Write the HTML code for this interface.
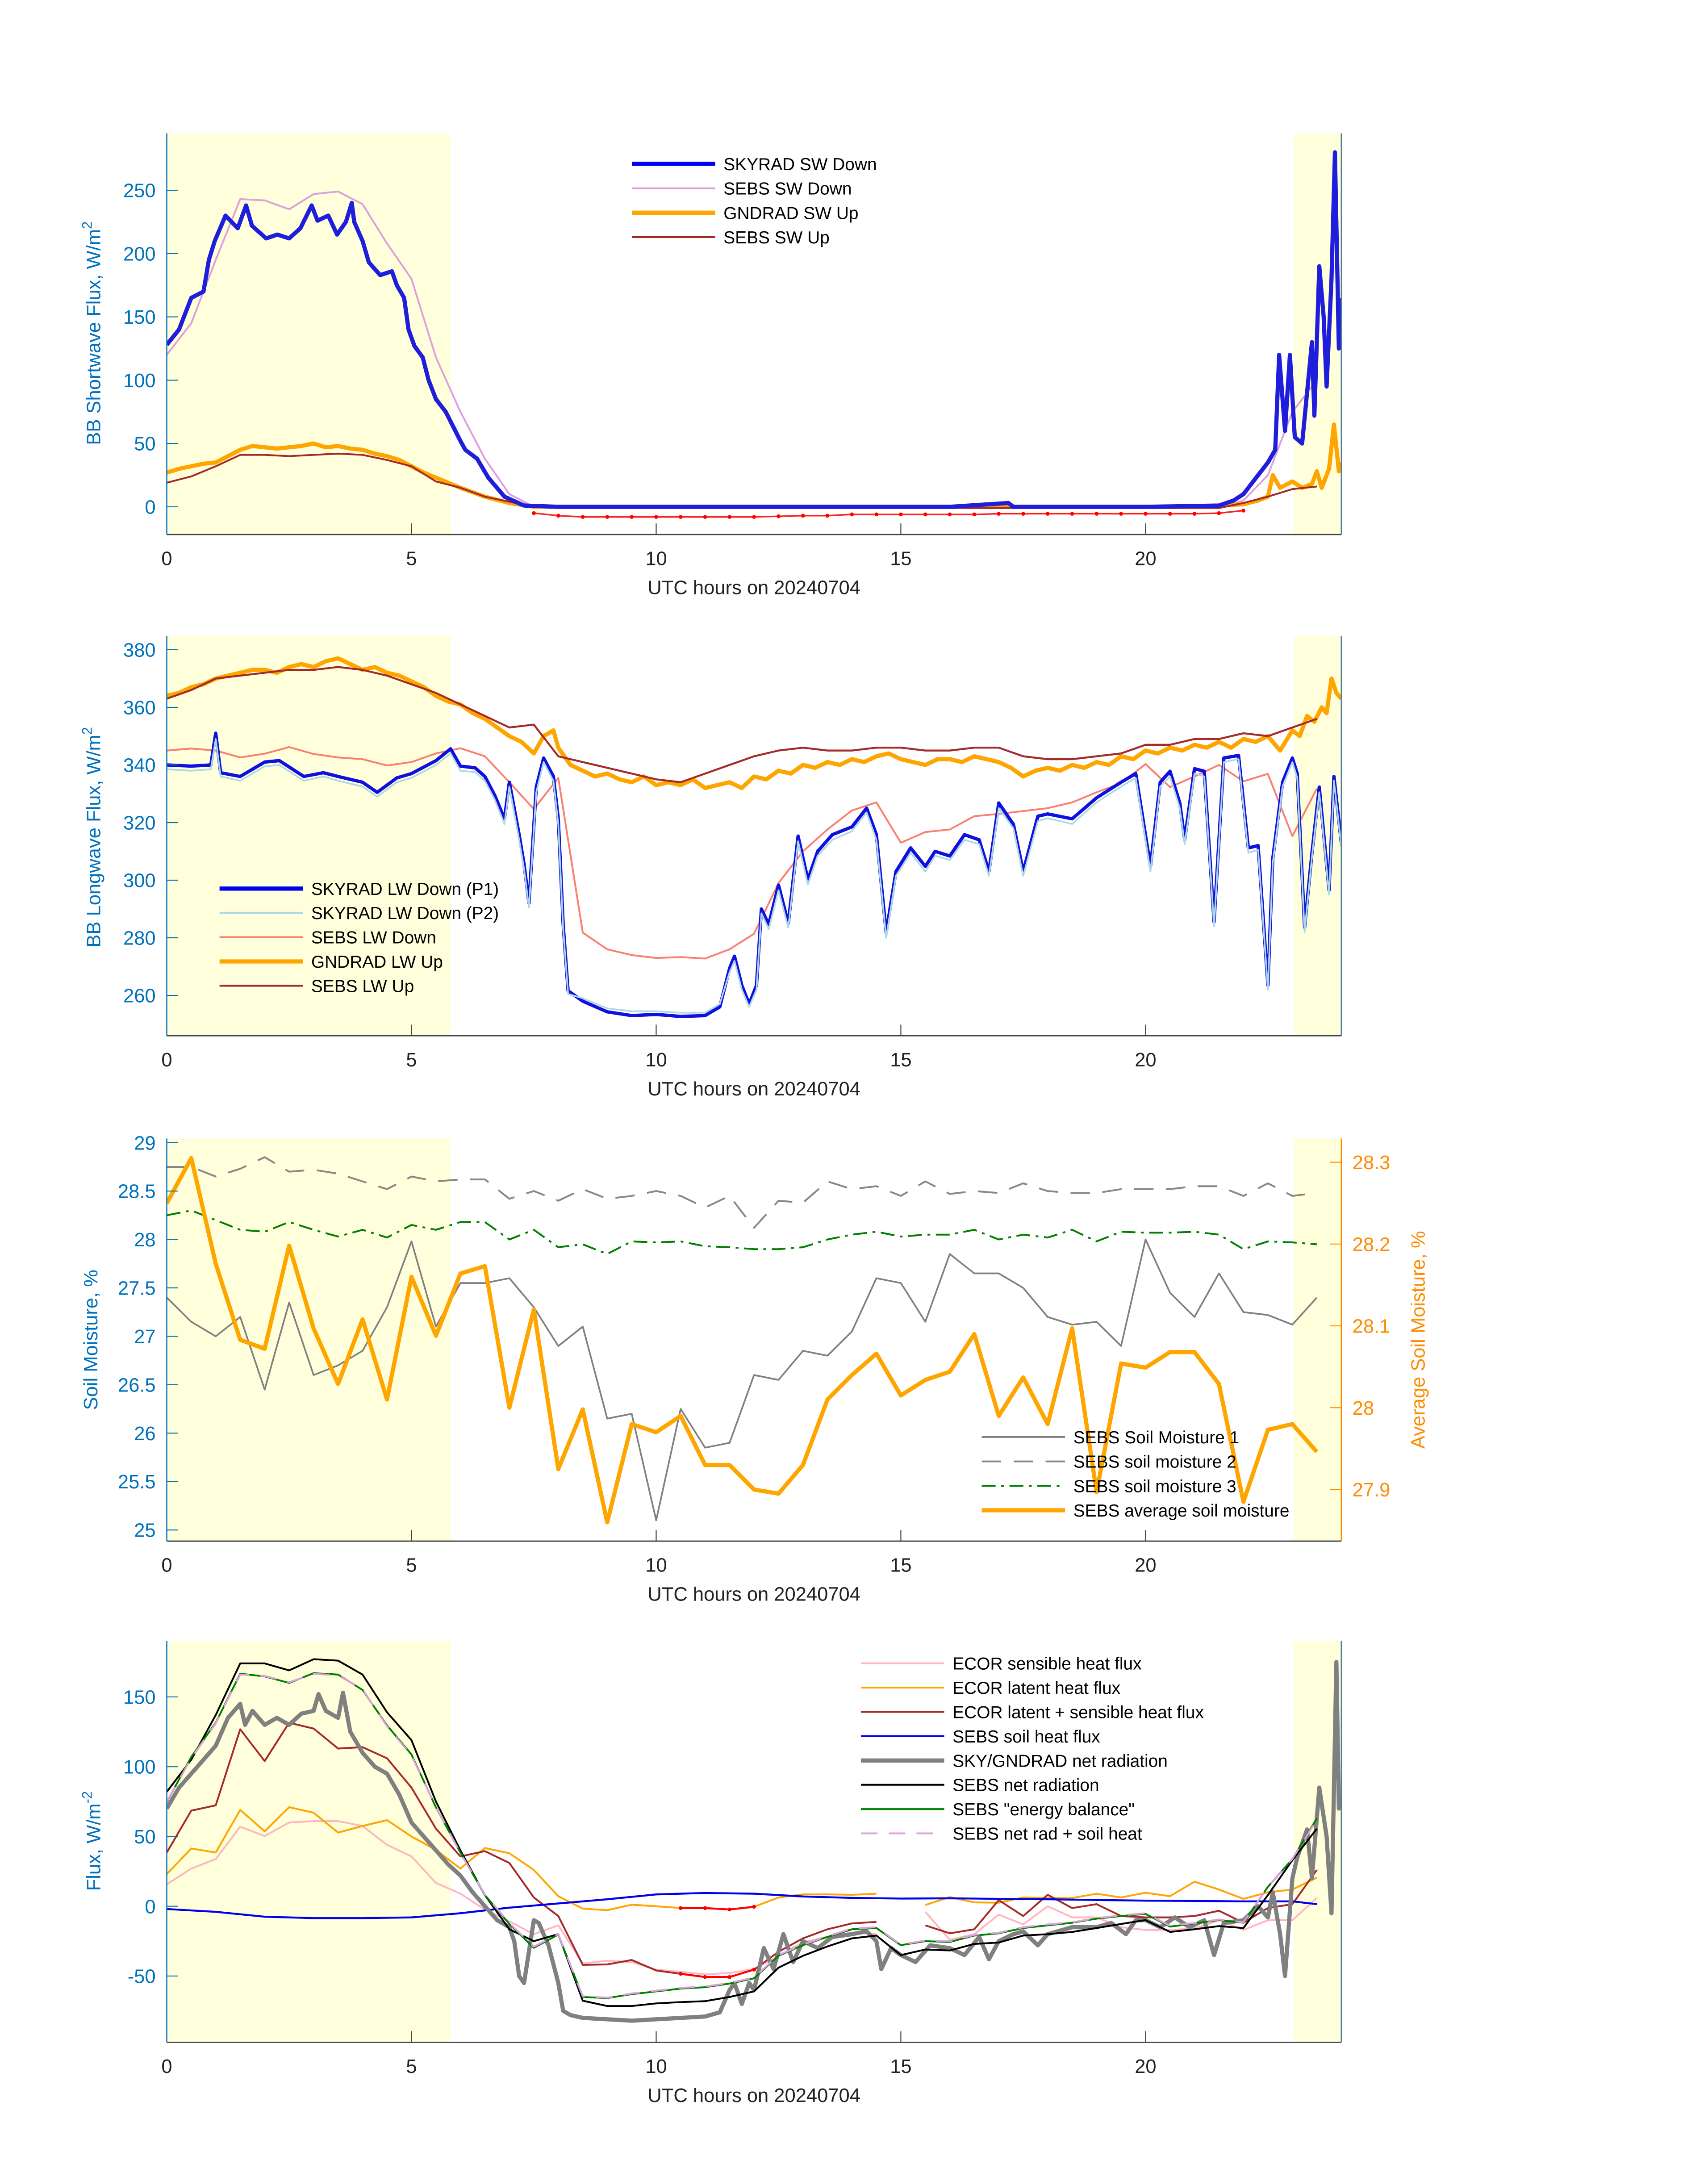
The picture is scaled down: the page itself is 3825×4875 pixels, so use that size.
<!DOCTYPE html>
<html><head><meta charset="utf-8"><title>SEBS / SKYRAD / GNDRAD 20240704</title>
<style>
html,body{margin:0;padding:0;background:#fff;}
svg{display:block;font-family:"Liberation Sans","DejaVu Sans",sans-serif;}
</style></head>
<body>
<svg id="fig" xmlns="http://www.w3.org/2000/svg" width="3825" height="4875" viewBox="0 0 1230 1568"></svg>
<script>
// ---------- Panel 1: shortwave ----------
const swDownT = [0,0.25,0.4,0.5,0.75,0.86,0.98,1.2,1.45,1.62,1.74,2.03,2.26,2.5,2.73,2.96,3.08,3.3,3.48,3.66,3.78,3.83,4.0,4.13,4.36,4.6,4.7,4.85,4.94,5.06,5.23,5.35,5.5,5.7,5.87,6.0,6.1,6.34,6.57,6.9,7.3,8,10,12,14,16,17.2,17.3,18,20,21.5,21.8,22,22.3,22.5,22.65,22.73,22.85,22.95,23.05,23.2,23.4,23.45,23.55,23.64,23.7,23.8,23.87,23.95,24];
const swDownV = [128,140,155,165,170,195,210,230,220,238,222,212,215,212,220,238,226,230,215,225,240,225,210,193,183,186,175,165,140,127,118,100,85,75,62,52,45,38,23,8,1,0,0,0,0,0,3,0,0,0,1,5,10,25,35,45,120,60,120,55,50,130,72,190,150,95,180,280,125,165];
const sebsSwT = [0,0.5,1,1.5,2,2.5,3,3.5,4,4.5,5,5.5,6,6.5,7,7.5,8,10,12,14,16,18,20,21.5,22,22.5,23,23.5];
const sebsSwDownV = [120,145,195,243,242,235,247,249,239,208,180,118,75,38,10,0,-1,-1,-1,-1,-1,-1,-1,-1,5,25,75,100];
const sebsSwUpV = [19,24,32,41,41,40,41,42,41,37,32,20,15,8,4,0,-1,-1,-1,-1,-1,-1,-1,-1,3,8,14,16];
const gndSwT = [0,0.25,0.5,0.75,1,1.25,1.5,1.75,2,2.25,2.5,2.75,3,3.25,3.5,3.75,4,4.25,4.5,4.75,5,5.25,5.5,5.75,6,6.5,7,7.5,9,12,15,18,21,22,22.3,22.5,22.6,22.75,23,23.2,23.4,23.5,23.6,23.75,23.85,23.95,24];
const gndSwV = [27,30,32,34,35,40,45,48,47,46,47,48,50,47,48,46,45,42,40,37,32,27,23,19,15,8,3,0,0,0,0,0,0,2,5,8,25,15,20,15,18,28,15,30,65,28,35];
const redSwT = [7.5,8,8.5,9,9.5,10,10.5,11,11.5,12,12.5,13,13.5,14,14.5,15,15.5,16,16.5,17,17.5,18,18.5,19,19.5,20,20.5,21,21.5,22];
const redSwV = [-5,-7,-8,-8,-8,-8,-8,-8,-8,-8,-7.5,-7,-7,-6,-6,-6,-6,-6,-6,-5.5,-5.5,-5.5,-5.5,-5.5,-5.5,-5.5,-5.5,-5.5,-5,-3];
const sw_yticks = [0,50,100,150,200,250];

// ---------- Panel 2: longwave ----------
const lwT = [0,0.5,0.9,1.0,1.1,1.5,2,2.3,2.8,3.2,3.5,4,4.3,4.7,5,5.5,5.8,6,6.3,6.5,6.7,6.9,7,7.2,7.3,7.4,7.55,7.7,7.9,8.0,8.1,8.2,8.5,9,9.5,10,10.5,11,11.3,11.5,11.6,11.75,11.9,12.05,12.15,12.3,12.5,12.7,12.9,13.1,13.3,13.6,14,14.3,14.5,14.7,14.9,15.2,15.5,15.7,16,16.3,16.6,16.8,17,17.3,17.5,17.8,18,18.5,19,19.5,19.8,20.1,20.3,20.5,20.7,20.8,21,21.2,21.4,21.6,21.9,22.1,22.3,22.5,22.6,22.8,23,23.1,23.25,23.4,23.55,23.75,23.85,24];
const lwP1 = [340,339.6,340,351,337.3,336,341,341.5,336,337.3,336,334,330.5,335.5,337,341.5,345.6,339.6,339,336,329.5,321.3,334,315.8,305.7,292,332.3,342.4,336,321.3,284.6,261.6,258,254.3,253,253.4,252.7,253,256,269.4,273.6,263.5,257,263.5,290,284.6,298.3,285,315.3,300.2,310,315.8,318.5,325,315.8,281.8,303,311.2,304.8,310,308.4,315.8,314,303,326.8,319.4,303,322.2,323,321.3,328.6,334,337,304.8,334,337.8,326.8,314,338.7,337.8,285.5,342.4,343.3,311.2,312,263.5,307.5,334,342.4,337,283.6,309.4,332.3,296.5,336,313];
const lwP2 = [338.5,338,338.5,349,336,334.5,339.5,340,334.5,336,334.5,332.5,329,334,335.5,340,344,338,337.5,334.5,328,319.5,332.5,314,304,290.5,330.5,341,334.5,319.5,283,260.5,259,255.5,254.5,254.5,254,254,257,268,272,262,256,262,288.5,283,296.5,283.5,313.5,298.5,308.5,314,317,323.5,314,280,301.5,309.5,303,308.5,307,314,312.5,301.5,325,318,301.5,320.5,321.5,319.5,327,332.5,335.5,303,332.5,336,325,312.5,337,336,284,341,342,309.5,310.5,262,306,332.5,341,335.5,282,308,330.5,295,334.5,311.5];
const sebsLwT = [0,0.5,1,1.5,2,2.5,3,3.5,4,4.5,5,5.5,6,6.5,7,7.5,8,8.5,9,9.5,10,10.5,11,11.5,12,12.5,13,13.5,14,14.5,15,15.5,16,16.5,17,17.5,18,18.5,19,19.5,20,20.5,21,21.5,22,22.5,23,23.5];
const sebsLwDownV = [345,345.7,345,342.6,343.9,346.2,343.8,342.6,342,339.8,341,344,345.8,343,334,324.7,335.5,281.8,276,274,273,273.3,272.8,276,281.4,299,310,317.6,324.2,327,313,316.7,317.6,322.2,323,324,325,327,330.5,333.7,340.3,332.3,336,340,334.3,336.9,315.3,331.8];
const sebsLwUpV = [363,366,370,371,372,373,373,374,373,371,368,365,361,357,353,354,343,341,339,337,335,334,337,340,343,345,346,345,345,346,346,345,345,346,346,343,342,342,343,344,347,347,349,349,351,350,353,356];
const gndLwT = [0,0.25,0.5,0.75,1,1.25,1.5,1.75,2,2.25,2.5,2.75,3,3.25,3.5,3.75,4,4.25,4.5,4.75,5,5.25,5.5,5.75,6,6.25,6.5,6.75,7,7.25,7.5,7.7,7.9,8,8.25,8.5,8.75,9,9.25,9.5,9.75,10,10.25,10.5,10.75,11,11.25,11.5,11.75,12,12.25,12.5,12.75,13,13.25,13.5,13.75,14,14.25,14.5,14.75,15,15.25,15.5,15.75,16,16.25,16.5,16.75,17,17.25,17.5,17.75,18,18.25,18.5,18.75,19,19.25,19.5,19.75,20,20.25,20.5,20.75,21,21.25,21.5,21.75,22,22.25,22.5,22.75,23,23.15,23.3,23.45,23.6,23.7,23.8,23.9,24];
const gndLwV = [364,365,367,368,370,371,372,373,373,372,374,375,374,376,377,375,373,374,372,371,369,367,364,362,361,358,356,353,350,348,344,350,352,346,340,338,336,337,335,334,336,333,334,333,335,332,333,334,332,336,335,338,337,340,339,341,340,342,341,343,344,342,341,340,342,342,341,343,342,341,339,336,338,339,338,340,339,341,340,343,342,345,344,346,345,347,346,348,346,349,348,350,345,352,350,357,355,360,358,370,365,363];
const lw_yticks = [260,280,300,320,340,360,380];

// ---------- Panel 3: soil moisture ----------
const smT = [0,0.5,1,1.5,2,2.5,3,3.5,4,4.5,5,5.5,6,6.5,7,7.5,8,8.5,9,9.5,10,10.5,11,11.5,12,12.5,13,13.5,14,14.5,15,15.5,16,16.5,17,17.5,18,18.5,19,19.5,20,20.5,21,21.5,22,22.5,23,23.5];
const sm1 = [27.4,27.15,27.0,27.2,26.45,27.35,26.6,26.7,26.85,27.3,27.98,27.1,27.55,27.55,27.6,27.3,26.9,27.1,26.15,26.2,25.1,26.25,25.85,25.9,26.6,26.55,26.85,26.8,27.05,27.6,27.55,27.15,27.85,27.65,27.65,27.5,27.2,27.12,27.15,26.9,28.0,27.45,27.2,27.65,27.25,27.22,27.12,27.4];
const sm2 = [28.75,28.75,28.65,28.73,28.85,28.7,28.72,28.68,28.6,28.52,28.65,28.6,28.62,28.62,28.42,28.5,28.4,28.52,28.42,28.45,28.5,28.45,28.33,28.45,28.12,28.4,28.38,28.6,28.52,28.55,28.45,28.6,28.47,28.5,28.48,28.58,28.5,28.48,28.48,28.52,28.52,28.52,28.55,28.55,28.45,28.58,28.45,28.48];
const sm3 = [28.25,28.3,28.2,28.1,28.08,28.18,28.1,28.03,28.1,28.02,28.15,28.1,28.18,28.18,28.0,28.1,27.92,27.95,27.85,27.98,27.97,27.98,27.93,27.92,27.9,27.9,27.92,28.0,28.05,28.08,28.03,28.05,28.05,28.1,28.0,28.05,28.02,28.1,27.98,28.08,28.07,28.07,28.08,28.05,27.9,27.98,27.97,27.95];
const smAvg = [28.25,28.305,28.176,28.083,28.072,28.198,28.097,28.029,28.108,28.01,28.16,28.088,28.164,28.173,28.0,28.12,27.925,27.998,27.86,27.98,27.97,27.99,27.93,27.93,27.9,27.895,27.93,28.01,28.04,28.066,28.015,28.034,28.044,28.09,27.99,28.037,27.98,28.097,27.897,28.054,28.049,28.068,28.068,28.029,27.885,27.973,27.98,27.946];
const sm_yticks = [25,25.5,26,26.5,27,27.5,28,28.5,29];
const sm_yticksR = [27.9,28,28.1,28.2,28.3];

// ---------- Panel 4: energy fluxes ----------
const ebT = smT;
const sebsNet = [82,105,137,174,174,169,177,176,166,139,119,75,40,8,-16.5,-25,-20,-67.7,-71.5,-71.5,-69.6,-68.7,-68,-65,-61,-44,-35.5,-28.8,-23,-21,-35,-31,-31.7,-27,-26,-21,-20,-18.4,-15.6,-12.7,-9.9,-18.4,-16.5,-14.2,-15.6,8,33,55.6];
const sebsBal = [74.6,107,131.5,166.6,164.7,160,167,166,155,129.6,108.7,70.8,38.5,8,-12.7,-29.8,-20.3,-65,-65.8,-63,-61,-59,-58,-55.4,-51.6,-35.5,-27.9,-22,-16.5,-15.6,-27.9,-25,-25.6,-21,-19.4,-15.6,-13.7,-11.8,-8.9,-7,-5.5,-14.6,-12.3,-9.9,-11.8,13.9,33.8,63];
const sebsNetSoil = [75,106,131,166,165,160.5,166.5,165.5,155.5,129,108,71,38,8.5,-12,-29,-20,-64.5,-65.5,-62.5,-60.5,-58.5,-57.5,-55,-51,-35,-27.5,-21.5,-16,-15,-27.5,-24.5,-25,-20.5,-19,-15,-13,-11.5,-8.5,-6.5,-5,-14,-12,-9.5,-11.5,14,34,62];
const ecorSum = [38.5,68.5,72.3,126.8,104,131.5,127.3,113,114,106,85,55.6,35.7,39.5,31,6.3,-7,-42,-41.7,-38.5,-46,-48.4,-50.7,-50.7,-45.4,-32.6,-23,-16.5,-12.3,-11.2,null,-13.7,-19.4,-16.5,4.4,-7,8.2,-1.3,1.5,-7,-8,-8,-7,-3.2,-11.8,-1.3,1.5,26];
const ecorLatent = [23,41.4,38.5,69,53.7,71,67,52.8,57.5,61.7,50,40.4,27,41.7,38,26,7.2,-1.7,-2.8,1.1,0,-1.3,-1.3,-2.3,-0.4,6.3,8.5,8.5,8.2,9,null,0.9,6.6,2.8,2.5,6.3,5.9,5.9,9,6.3,9.7,7.2,17.6,12,5.3,10,12,20.5];
const ecorSens = [15.7,27,33.8,57,50.3,60,61,61,57.5,44,35.7,16.7,9,-2.3,-10.8,-20,-13.7,-41,-39,-40,-45.4,-47,-48.8,-47.8,-45,-35.5,-26,-21.8,-18.8,-20,null,-4,-24,-20,-6,-13,0,-8,-8,-15,-17,-17,-16,-10,-17,-10,-10,6];
const soilT = [0,1,2,3,4,5,6,7,8,9,10,11,12,13,14,15,16,17,18,19,20,21,22,23,23.5];
const soilHeat = [-2,-4,-7.5,-8.5,-8.5,-8,-5,-1,2,5,8.5,9.5,9,7,6,5.5,5.7,5.3,5,4.5,4,3.8,3.5,3.5,1.5];
const netRadT = [0,0.25,0.5,0.75,1,1.25,1.5,1.6,1.75,2,2.25,2.5,2.75,3,3.1,3.25,3.5,3.6,3.75,4,4.25,4.5,4.75,5,5.25,5.5,5.75,6,6.25,6.5,6.75,7,7.1,7.2,7.3,7.5,7.6,7.8,8,8.1,8.25,8.5,9,9.5,10,10.5,11,11.3,11.5,11.6,11.75,11.9,12,12.2,12.4,12.6,12.8,13,13.3,13.6,14,14.3,14.5,14.6,14.8,15,15.3,15.6,16,16.3,16.6,16.8,17,17.3,17.5,17.8,18,18.5,19,19.3,19.6,19.8,20,20.3,20.6,20.9,21.2,21.4,21.6,22,22.3,22.5,22.6,22.75,22.85,23,23.1,23.3,23.4,23.55,23.7,23.8,23.9,23.95,24];
const netRadV = [70,85,95,105,115,135,145,130,140,130,135,130,138,140,152,140,135,153,125,110,100,95,80,60,50,40,30,22,10,0,-10,-15,-25,-50,-55,-10,-12,-28,-55,-75,-78,-80,-81,-82,-81,-80,-79,-76,-60,-55,-70,-55,-60,-30,-45,-20,-40,-25,-30,-22,-20,-18,-25,-45,-30,-35,-40,-28,-30,-35,-22,-38,-25,-20,-18,-28,-20,-15,-15,-12,-20,-10,-10,-15,-8,-15,-10,-35,-12,-10,0,-8,10,-20,-50,20,35,55,20,85,50,-5,175,70,80];
const ecorRedT = [10.5,11,11.5,12];
const ecorLatRed = [-1.3,-1.3,-2.3,-0.4];
const ecorSumRed = [-48.4,-50.7,-50.7,-45.4];
const eb_yticks = [-50,0,50,100,150];

const xticks = [0,5,10,15,20];

// ---------- drawing ----------
const NS = 'http://www.w3.org/2000/svg';
const fig = document.getElementById('fig');
const AX = '#0072BD', ORG = '#FF8C00';
function el(tag, parent){const e=document.createElementNS(NS,tag);parent.appendChild(e);return e;}
function mkPanel(top,bottom,ymin,ymax,name){
  const p={left:120,right:966,top:top,bottom:bottom,ymin:ymin,ymax:ymax};
  p.x=h=>p.left+h/24*(p.right-p.left);
  p.y=v=>p.bottom-(v-p.ymin)/(p.ymax-p.ymin)*(p.bottom-p.top);
  const g=el('g',fig);
  
  
  p.g=g;
  const cp=el('clipPath',g); cp.setAttribute('id','clip-'+name);
  const r=el('rect',cp); r.setAttribute('x',p.left);r.setAttribute('y',p.top);r.setAttribute('width',p.right-p.left);r.setAttribute('height',p.bottom-p.top);
  [[0,5.8,'night-shade-left'],[23.03,24,'night-shade-right']].forEach(s=>{
    const b=el('rect',g);
    
    
    b.setAttribute('x',p.x(s[0]));b.setAttribute('y',p.top);b.setAttribute('width',p.x(s[1])-p.x(s[0]));b.setAttribute('height',p.bottom-p.top);b.setAttribute('fill','#FFFFDC');
  });
  p.plot=el('g',g); p.plot.setAttribute('clip-path','url(#clip-'+name+')');
  return p;
}
function line(p,T,V,color,w,name,dash,yfn){
  const yf=yfn||p.y;
  let d='',pen=false;
  for(let i=0;i<T.length;i++){
    if(V[i]===null||V[i]===undefined){pen=false;continue;}
    d+=(pen?'L':'M')+p.x(T[i]).toFixed(2)+' '+yf(V[i]).toFixed(2);pen=true;
  }
  const e=el('path',p.plot);
  
  
  e.setAttribute('d',d);e.setAttribute('fill','none');e.setAttribute('stroke',color);e.setAttribute('stroke-width',w);
  e.setAttribute('stroke-linejoin','round');
  if(dash)e.setAttribute('stroke-dasharray',dash);
  return e;
}
function dots(p,T,V,color,name){
  for(let i=0;i<T.length;i++){
    const c=el('circle',p.plot);
    
    
    c.setAttribute('cx',p.x(T[i]));c.setAttribute('cy',p.y(V[i]));c.setAttribute('r',1.4);c.setAttribute('fill',color);
  }
}
function text(parent,x,y,s,size,color,anchor,name){
  const t=el('text',parent);
  
  
  t.setAttribute('x',x);t.setAttribute('y',y);t.setAttribute('font-size',size);t.setAttribute('fill',color);
  if(anchor)t.setAttribute('text-anchor',anchor);
  t.textContent=s;return t;
}
function axes(p,yt,ylabel,labelY,rightColor){
  const g=p.g;
  const ax=el('line',g);
  
  
  ax.setAttribute('x1',p.left);ax.setAttribute('x2',p.left);ax.setAttribute('y1',p.top);ax.setAttribute('y2',p.bottom);ax.setAttribute('stroke',AX);ax.setAttribute('stroke-width',0.8);
  const rx=el('line',g);
  
  
  rx.setAttribute('x1',p.right);rx.setAttribute('x2',p.right);rx.setAttribute('y1',p.top);rx.setAttribute('y2',p.bottom);rx.setAttribute('stroke',rightColor||'#4a7f9a');rx.setAttribute('stroke-width',0.8);
  const bx=el('line',g);
  
  
  bx.setAttribute('x1',p.left);bx.setAttribute('x2',p.right);bx.setAttribute('y1',p.bottom);bx.setAttribute('y2',p.bottom);bx.setAttribute('stroke','#444');bx.setAttribute('stroke-width',0.9);
  yt.forEach(v=>{
    const t=el('line',g);
    
    
    t.setAttribute('x1',p.left);t.setAttribute('x2',p.left+8);t.setAttribute('y1',p.y(v));t.setAttribute('y2',p.y(v));t.setAttribute('stroke',AX);t.setAttribute('stroke-width',0.7);
    text(g,p.left-8,p.y(v)+5,String(v),14,AX,'end','y-tick-label');
  });
  xticks.forEach(h=>{
    if(h>0){const t=el('line',g);
    
    
    t.setAttribute('x1',p.x(h));t.setAttribute('x2',p.x(h));t.setAttribute('y1',p.bottom);t.setAttribute('y2',p.bottom-8);t.setAttribute('stroke','#444');t.setAttribute('stroke-width',0.7);}
    text(g,p.x(h),p.bottom+22,String(h),14,'#222','middle','x-tick-label');
  });
  text(g,543,p.bottom+43,'UTC hours on 20240704',14,'#222','middle','x-axis-title');
  const yl=text(g,0,0,'',14,AX,'middle','y-axis-title');
  yl.setAttribute('transform','translate(72,'+labelY+') rotate(-90)');
  return yl;
}
function legend(g,x,y0,dy,items){
  const lg=el('g',g);
  
  
  items.forEach((it,i)=>{
    const y=y0+i*dy;
    const l=el('line',lg);
    
    
    l.setAttribute('x1',x);l.setAttribute('x2',x+60);l.setAttribute('y1',y);l.setAttribute('y2',y);l.setAttribute('stroke',it[1]);l.setAttribute('stroke-width',it[2]);
    if(it[3])l.setAttribute('stroke-dasharray',it[3]);
    text(lg,x+66,y+4.5,it[0],12.5,'#000',null,'legend-entry');
  });
}

// Panel 1
const p1=mkPanel(96,385,-21.9,295,'shortwave-panel');
line(p1,sebsSwT,sebsSwDownV,'#DDA0DD',1.3,'sebs-sw-down-line');
line(p1,redSwT,redSwV,'#FF2020',1.1,'sebs-sw-negative-line');
dots(p1,redSwT,redSwV,'#FF0000','sebs-sw-negative-point');
line(p1,gndSwT,gndSwV,'#FFA500',3,'gndrad-sw-up-line');
line(p1,sebsSwT,sebsSwUpV,'#A52A2A',1.3,'sebs-sw-up-line');
line(p1,swDownT,swDownV,'#1E1EDC',3,'skyrad-sw-down-line');
const yl1=axes(p1,sw_yticks,'',240);
yl1.textContent='BB Shortwave Flux, W/m';
const sup1=el('tspan',yl1);sup1.setAttribute('dy','-6');sup1.setAttribute('font-size','10');sup1.textContent='2';
legend(p1.g,455,118,17.6,[['SKYRAD SW Down','#0000EE',3],['SEBS SW Down','#DDA0DD',1.3],['GNDRAD SW Up','#FFA500',3],['SEBS SW Up','#A52A2A',1.3]]);

// Panel 2
const p2=mkPanel(458,746,246,384.8,'longwave-panel');
line(p2,gndLwT,gndLwV,'#FFA500',3,'gndrad-lw-up-line');
line(p2,sebsLwT,sebsLwUpV,'#A52A2A',1.4,'sebs-lw-up-line');
line(p2,sebsLwT,sebsLwDownV,'#FA8072',1.3,'sebs-lw-down-line');
line(p2,lwT,lwP1,'#1010E0',2.4,'skyrad-lw-down-p1-line');
line(p2,lwT,lwP2,'#ADD8E6',1.2,'skyrad-lw-down-p2-line');
const yl2=axes(p2,lw_yticks,'',603);
yl2.textContent='BB Longwave Flux, W/m';
const sup2=el('tspan',yl2);sup2.setAttribute('dy','-6');sup2.setAttribute('font-size','10');sup2.textContent='2';
legend(p2.g,158,640,17.5,[['SKYRAD LW Down (P1)','#0000EE',3],['SKYRAD LW Down (P2)','#ADD8E6',1.5],['SEBS LW Down','#FA8072',1.3],['GNDRAD LW Up','#FFA500',3],['SEBS LW Up','#A52A2A',1.3]]);

// Panel 3
const p3=mkPanel(820,1110,24.885,29.043,'soil-moisture-panel');
const yR=v=>p3.bottom-(v-27.837)/(28.329-27.837)*(p3.bottom-p3.top);
line(p3,smT,sm2,'#888',1.3,'soil-moisture-2-line','14 9');
line(p3,smT,sm3,'#007F00',1.3,'soil-moisture-3-line','10 4 2 4');
line(p3,smT,sm1,'#808080',1.2,'soil-moisture-1-line');
line(p3,smT,smAvg,'#FFA500',3,'average-soil-moisture-line',null,yR);
const yl3=axes(p3,sm_yticks,'',965,ORG);
yl3.setAttribute('transform','translate(70,965) rotate(-90)');
yl3.textContent='Soil Moisture, %';
sm_yticksR.forEach(v=>{
  const t=el('line',p3.g);
  
  
  t.setAttribute('x1',p3.right-8);t.setAttribute('x2',p3.right);t.setAttribute('y1',yR(v));t.setAttribute('y2',yR(v));t.setAttribute('stroke',ORG);t.setAttribute('stroke-width',0.7);
  text(p3.g,p3.right+8,yR(v)+5,String(v),14,ORG,null,'right-y-tick-label');
});
const yr3=text(p3.g,0,0,'Average Soil Moisture, %',14,ORG,'middle','right-y-axis-title');
yr3.setAttribute('transform','translate(1026,965) rotate(-90)');
legend(p3.g,707,1035,17.6,[['SEBS Soil Moisture 1','#808080',1.3],['SEBS soil moisture 2','#888',1.3,'14 9'],['SEBS soil moisture 3','#007F00',1.3,'10 4 2 4'],['SEBS average soil moisture','#FFA500',3]]);

// Panel 4
const p4=mkPanel(1182,1471,-97.5,190,'energy-flux-panel');
line(p4,ebT,ecorSens,'#FFB6C1',1.3,'ecor-sensible-line');
line(p4,ebT,ecorLatent,'#FFA500',1.3,'ecor-latent-line');
line(p4,ebT,ecorSum,'#A52A2A',1.3,'ecor-latent-plus-sensible-line');
line(p4,ecorRedT,ecorLatRed,'#FF0000',1.4,'ecor-latent-flagged-line');
line(p4,ecorRedT,ecorSumRed,'#FF0000',1.4,'ecor-sum-flagged-line');
dots(p4,ecorRedT,ecorLatRed,'#FF0000','ecor-latent-flagged-point');
dots(p4,ecorRedT,ecorSumRed,'#FF0000','ecor-sum-flagged-point');
line(p4,soilT,soilHeat,'#0000EE',1.4,'sebs-soil-heat-line');
line(p4,netRadT,netRadV,'#808080',3,'skygndrad-net-radiation-line');
line(p4,ebT,sebsNet,'#000',1.3,'sebs-net-radiation-line');
line(p4,ebT,sebsBal,'#007F00',1.3,'sebs-energy-balance-line');
line(p4,ebT,sebsNetSoil,'#DDA0DD',1.3,'sebs-net-rad-plus-soil-line','12 8');
const yl4=axes(p4,eb_yticks,'',1326);
yl4.textContent='Flux, W/m';
const sup4=el('tspan',yl4);sup4.setAttribute('dy','-6');sup4.setAttribute('font-size','10');sup4.textContent='-2';
legend(p4.g,620,1198,17.5,[['ECOR sensible heat flux','#FFB6C1',1.3],['ECOR latent heat flux','#FFA500',1.3],['ECOR latent + sensible heat flux','#A52A2A',1.3],['SEBS soil heat flux','#0000EE',1.3],['SKY/GNDRAD net radiation','#808080',3],['SEBS net radiation','#000',1.3],['SEBS "energy balance"','#007F00',1.3],['SEBS net rad + soil heat','#DDA0DD',1.3,'12 8']]);
</script>
</body></html>
